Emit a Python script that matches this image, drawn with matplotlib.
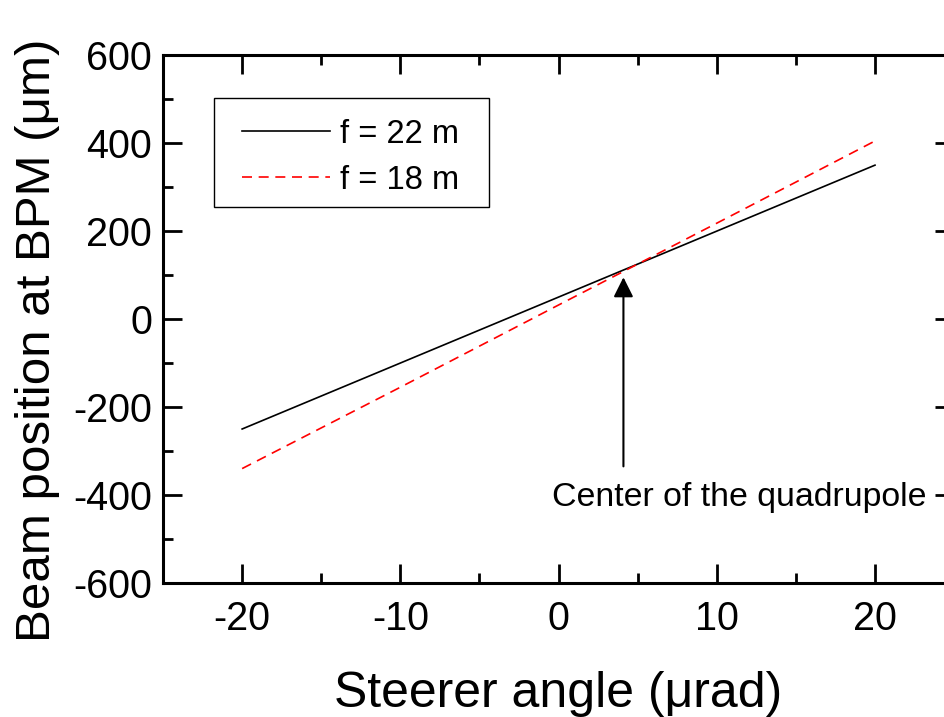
import numpy as np
import matplotlib
matplotlib.use("Agg")
import matplotlib.pyplot as plt
from matplotlib.ticker import MultipleLocator
from matplotlib.patches import Rectangle

plt.rcParams['font.family'] = ['Liberation Sans', 'DejaVu Sans']
plt.rcParams['axes.unicode_minus'] = False

# steerer angle (urad) and beam position at BPM (um)
angle = [-20, -10, 0, 10, 20]
pos_f22 = [-250, -100, 50, 200, 350]
pos_f18 = [-340, -155, 32, 218, 405]

arrow_x = 4.1
arrow_tip = 95
arrow_tail = -335
note_x = 11.4
note_y = -405

fig = plt.figure(figsize=(9.44, 7.17), dpi=100)
ax = fig.add_axes([0.1727, 0.187, 0.838, 0.736])

ax.plot(angle, pos_f22, color='black', lw=1.2, label='f = 22 m')
ax.plot(angle, pos_f18, color='red', lw=1.2, ls=(0, (6, 4)), label='f = 18 m')

ax.annotate('', xy=(arrow_x, arrow_tip), xytext=(arrow_x, arrow_tail),
            arrowprops=dict(arrowstyle='-|>', color='black', lw=1.5,
                            mutation_scale=30, shrinkA=0, shrinkB=0))
ax.text(note_x, note_y, 'Center of the quadrupole', fontsize=24.4,
        ha='center', va='center')

ax.set_xlim(-25, 25)
ax.set_ylim(-600, 600)
ax.xaxis.set_major_locator(MultipleLocator(10))
ax.xaxis.set_minor_locator(MultipleLocator(5))
ax.yaxis.set_major_locator(MultipleLocator(200))
ax.yaxis.set_minor_locator(MultipleLocator(100))
ax.tick_params(which='both', direction='in', top=True, right=True, width=2,
               labelsize=28.5)
ax.tick_params(axis='x', pad=12)
ax.tick_params(axis='y', pad=8)
ax.tick_params(which='major', length=14)
ax.tick_params(which='minor', length=7)
for s in ax.spines.values():
    s.set_linewidth(2.2)

ax.set_xlabel('Steerer angle (\u03bcrad)', fontsize=36, labelpad=24)
ax.set_ylabel('Beam position at BPM (\u03bcm)', fontsize=35.5)
ax.yaxis.set_label_coords(-0.130, 0.46)

# legend box drawn separately so its padding matches the original
ax.add_patch(Rectangle((0.0645, 0.712), 0.348, 0.206, transform=ax.transAxes,
                       fill=False, edgecolor='black', lw=1.0, zorder=4))
leg = ax.legend(loc='upper left', bbox_to_anchor=(0.0999, 0.880), borderaxespad=0,
                fontsize=23.5, frameon=False, handlelength=2.7,
                handletextpad=0.3, borderpad=0, labelspacing=0.46)

fig.savefig('out.png', dpi=100)
